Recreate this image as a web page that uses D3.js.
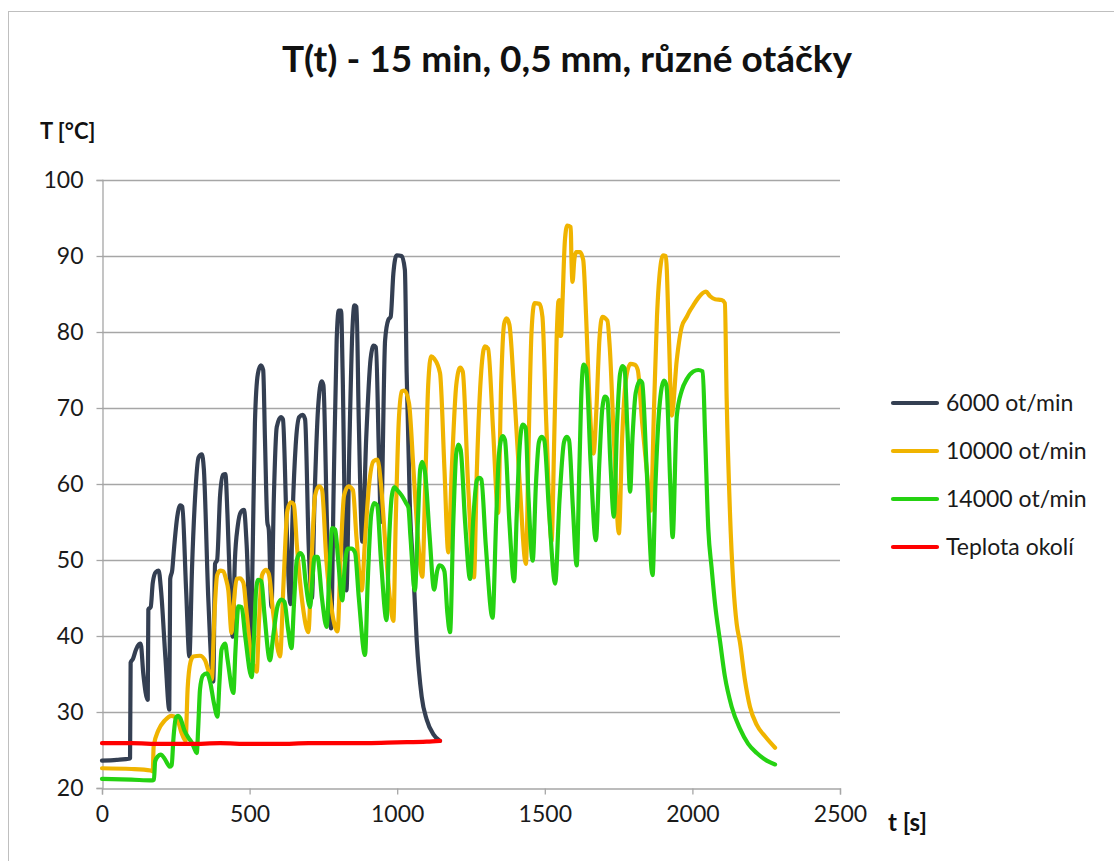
<!DOCTYPE html>
<html><head><meta charset="utf-8">
<script src="https://cdn.jsdelivr.net/npm/d3@7"></script>
<style>body{margin:0;background:#fff;} svg{display:block;}</style>
</head><body>
<svg id="chart" width="1114" height="861"></svg>
<script>
const title = "T(t) - 15 min, 0,5 mm, různé otáčky";
const xTitle = "t [s]";
const yTitle = "T [°C]";
const xTicks = [0, 500, 1000, 1500, 2000, 2500];
const yTicks = [20, 30, 40, 50, 60, 70, 80, 90, 100];
const seriesNames = ["6000 ot/min", "10000 ot/min", "14000 ot/min", "Teplota okolí"];
const seriesColors = ["#343f52", "#f0b400", "#25d212", "#ff0000"];

const s6000 = [[0,23.6],[50,23.7],[95,23.9],[97,36.5],[105,37],[115,38.2],[125,38.9],[131,39],[140,35],[155,31.6],[157,43.5],[165,43.8],[172,47],[182,48.4],[192,48.6],[200,46],[215,37],[228,30.3],[231,47.5],[238,48.7],[244,51.5],[255,55.7],[265,57.2],[272,57],[285,46],[296,37.3],[305,49],[315,58],[327,63.5],[338,63.9],[345,62],[360,45],[377,34],[383,49.5],[390,50],[400,58.5],[410,61.2],[418,61.3],[425,56],[435,45],[443,39.9],[450,49.8],[460,54.5],[470,56.3],[481,56.6],[490,52],[504,38.7],[510,50],[518,68],[528,74.5],[538,75.6],[546,75],[552,66],[560,55],[565,54],[574,43.8],[582,58],[592,67.5],[606,68.8],[613,68.5],[625,55],[638,44.2],[645,55],[656,65],[668,68.8],[680,69.1],[688,68.5],[700,52],[711,45],[720,58],[732,70],[744,73.5],[750,73],[762,55],[776,41],[785,60],[795,79],[802,82.8],[810,82.8],[815,75],[828,46],[838,65],[848,80],[855,83.5],[862,83.3],[870,68],[882,52.4],[895,66],[910,76.5],[920,78.2],[928,78],[938,64],[945,55],[959,78.9],[970,81.6],[978,82],[987,87.7],[998,90.1],[1015,90],[1026,88.2],[1032,74.7],[1043,57],[1055,48.3],[1066,39.5],[1083,32],[1100,29],[1122,27.1],[1145,26.2]];

const s10000 = [[0,22.6],[100,22.5],[165,22.3],[172,22.2],[175,25.5],[191,27.6],[213,28.9],[236,29.5],[253,29.2],[270,27.2],[283,26.2],[290,33],[300,36.6],[309,37.3],[332,37.4],[349,36.8],[360,35.5],[372,34.3],[380,42],[390,48],[400,48.6],[411,48.5],[420,47.5],[428,46],[439,40.4],[446,44],[456,47.5],[467,47.6],[479,47],[490,43],[505,37.5],[524,35.3],[532,42],[542,48],[555,48.7],[565,48.2],[580,43],[603,37.3],[615,47],[628,56.5],[640,57.6],[650,57.3],[660,52],[680,44],[699,40.5],[710,50],[722,58.5],[735,59.7],[745,59.3],[760,50],[780,43],[798,40.6],[808,50],[820,58.5],[835,59.7],[850,59.2],[862,53],[880,46],[890,52],[905,60],[920,63],[933,63.2],[945,60],[960,52],[975,45],[987,42],[995,55],[1005,68],[1015,72.2],[1025,72.3],[1040,70.6],[1055,62],[1070,53],[1085,47.8],[1095,60],[1105,73],[1115,76.8],[1125,76.5],[1145,74.6],[1160,62],[1173,51],[1185,62],[1200,73],[1213,75.3],[1222,74.8],[1240,60],[1260,47.7],[1270,62],[1285,75],[1297,78.1],[1308,77.8],[1325,67],[1342,56.2],[1352,73],[1362,81],[1370,81.8],[1380,81],[1395,73],[1415,60],[1436,49.5],[1445,65],[1455,80],[1465,83.8],[1482,83.7],[1492,82],[1505,68],[1523,52.5],[1532,66],[1540,79],[1546,84],[1549,84.2],[1551,79.5],[1555,79.5],[1560,84],[1568,92],[1576,94],[1588,93.8],[1590,90],[1594,86.6],[1600,89.5],[1606,90.5],[1619,90.5],[1630,89.5],[1640,82],[1650,72],[1665,64],[1675,70],[1685,79],[1695,82],[1712,81.5],[1720,78],[1735,65],[1751,53.5],[1762,66],[1775,73.8],[1790,75.8],[1805,75.7],[1815,75],[1830,68],[1845,62],[1859,56.5],[1870,70],[1880,82],[1893,89],[1900,90.1],[1910,90],[1920,80],[1930,69],[1947,76.3],[1964,80.7],[1981,82],[1990,82.7],[2003,83.5],[2020,84.5],[2046,85.3],[2060,84.7],[2077,84.3],[2099,84.2],[2110,83.8],[2116,71.3],[2127,56.5],[2139,46.6],[2150,41.6],[2161,39.2],[2178,34.2],[2195,30.7],[2218,28.3],[2246,26.8],[2280,25.3]];

const s14000 = [[0,21.2],[100,21.1],[170,21],[176,21.1],[180,23.5],[190,24.2],[199,24.4],[213,23.8],[225,23],[230,22.8],[236,23],[242,26.5],[250,29.2],[258,29.5],[265,29.2],[280,27.5],[295,26.5],[304,26],[315,25],[321,24.6],[326,28],[332,33],[342,34.8],[355,35.1],[366,34],[380,31],[391,29.4],[398,34],[405,38.2],[417,39],[425,37],[445,32.5],[452,38],[462,43.9],[473,43.8],[485,40],[507,34.6],[515,40],[522,46],[529,47.4],[540,47.2],[550,43],[569,36.8],[580,40],[595,44],[607,44.8],[618,44.5],[630,41],[642,38.4],[650,44],[660,50],[671,50.9],[680,50.5],[690,47],[705,43.8],[712,47],[720,50.4],[730,50.4],[745,45],[761,41.2],[770,48],[780,54.2],[790,54],[800,50],[814,44.7],[822,49],[832,51.5],[845,51.5],[857,51],[870,45],[891,37.5],[900,47],[912,56],[922,57.5],[932,57.2],[945,50],[964,42.1],[972,52],[982,58.5],[990,59.6],[1000,59.2],[1015,58.5],[1030,57.5],[1038,56.9],[1045,53],[1060,46],[1070,55],[1078,62],[1085,62.9],[1095,61.3],[1110,53],[1125,46.1],[1135,48.5],[1142,49.3],[1150,49.2],[1160,48.5],[1170,43],[1179,40.5],[1190,55],[1200,64],[1207,65.2],[1215,64.5],[1230,55],[1247,47.5],[1257,55],[1270,60.5],[1278,60.8],[1285,60.6],[1300,52],[1323,42.4],[1335,55],[1345,64],[1357,66.3],[1365,65.8],[1380,55],[1396,47.2],[1405,56],[1415,65],[1425,67.8],[1435,67.4],[1445,58],[1459,49.9],[1470,60],[1480,65.5],[1489,66.2],[1498,65.8],[1515,56],[1535,46.9],[1550,58],[1565,65.5],[1574,66.2],[1582,65.8],[1595,57],[1608,49.3],[1617,62],[1625,73],[1631,75.7],[1640,75.2],[1655,63],[1673,52.6],[1685,63],[1695,70],[1704,71.5],[1712,71.2],[1722,63],[1734,55.7],[1745,68],[1755,74.5],[1763,75.5],[1770,75.2],[1780,67],[1789,59],[1797,66],[1808,72],[1823,73.6],[1830,73.3],[1845,62],[1865,48],[1875,60],[1888,70],[1904,73.6],[1912,73],[1925,60],[1933,53],[1947,68.9],[1964,72.3],[1981,73.8],[2003,74.8],[2020,75],[2035,74.8],[2043,66.4],[2054,54],[2065,49],[2077,44.1],[2094,39.2],[2110,34.7],[2133,30.7],[2161,27.8],[2189,25.8],[2218,24.6],[2252,23.6],[2280,23.1]];

const sAmbient = [[0,25.9],[100,25.9],[200,25.8],[300,25.8],[400,25.9],[500,25.8],[600,25.8],[700,25.9],[800,25.9],[900,25.9],[1000,26.0],[1100,26.1],[1145,26.2]];

const allSeries = [s6000, s10000, s14000, sAmbient];

const svg = d3.select("#chart");
const FONT = "Lato, 'Open Sans', sans-serif";
const plot = {left: 102, right: 840, top: 180, bottom: 788};

// outer border
svg.append("rect").attr("x", 8.5).attr("y", 11.5).attr("width", 1200).attr("height", 1000)
  .attr("fill", "#fff").attr("stroke", "#bfbfbf").attr("stroke-width", 1);

const x = d3.scaleLinear().domain([0, 2500]).range([plot.left, plot.right]);
const y = d3.scaleLinear().domain([20, 100]).range([plot.bottom, plot.top]);

// gridlines
svg.append("g").selectAll("line").data(yTicks.filter(d => d > 20)).join("line")
  .attr("x1", plot.left).attr("x2", plot.right)
  .attr("y1", d => Math.round(y(d)) + 0.5).attr("y2", d => Math.round(y(d)) + 0.5)
  .attr("stroke", "#a6a6a6").attr("stroke-width", 1.3);

// axes
const xAxis = d3.axisBottom(x).tickValues(xTicks).tickSize(6).tickFormat(d3.format("d"));
const gx = svg.append("g").attr("transform", `translate(0,${plot.bottom + 0.5})`).call(xAxis);
gx.select(".domain").attr("stroke", "#a6a6a6").attr("stroke-width", 1.3);
gx.selectAll(".tick line").attr("stroke", "#a6a6a6").attr("stroke-width", 1.3);
gx.selectAll(".tick text").attr("font-family", FONT).attr("font-size", 23).attr("fill", "#1a1a1a").attr("dy", "1.05em");

const yAxis = d3.axisLeft(y).tickValues(yTicks).tickSize(6).tickFormat(d3.format("d"));
const gy = svg.append("g").attr("transform", `translate(${plot.left + 0.5},0)`).call(yAxis);
gy.select(".domain").attr("stroke", "#a6a6a6").attr("stroke-width", 1.3);
gy.selectAll(".tick line").attr("stroke", "#a6a6a6").attr("stroke-width", 1.3);
gy.selectAll(".tick text").attr("font-family", FONT).attr("font-size", 23).attr("fill", "#1a1a1a").attr("x", -19);

// series lines
const line = d3.line().x(d => x(d[0])).y(d => y(d[1])).curve(d3.curveMonotoneX);
svg.append("g").selectAll("path").data(allSeries).join("path")
  .attr("d", line).attr("fill", "none")
  .attr("stroke", (d, i) => seriesColors[i]).attr("stroke-width", 4.2)
  .attr("stroke-linejoin", "round").attr("stroke-linecap", "round");

// titles
svg.append("text").attr("x", 567).attr("y", 72).attr("text-anchor", "middle")
  .attr("font-family", FONT).attr("font-weight", "bold").attr("font-size", 37).attr("fill", "#111")
  .text(title);
svg.append("text").attr("x", 40).attr("y", 139)
  .attr("font-family", FONT).attr("font-weight", "bold").attr("font-size", 22).attr("fill", "#111")
  .text(yTitle);
svg.append("text").attr("x", 888).attr("y", 831)
  .attr("font-family", FONT).attr("font-weight", "bold").attr("font-size", 24).attr("fill", "#111")
  .text(xTitle);

// legend
const lg = svg.append("g").selectAll("g").data(seriesNames).join("g")
  .attr("transform", (d, i) => `translate(893,${403 + i * 48})`);
lg.append("line").attr("x1", 0).attr("x2", 44).attr("y1", 0).attr("y2", 0)
  .attr("stroke", (d, i) => seriesColors[i]).attr("stroke-width", 4.2).attr("stroke-linecap", "round");
lg.append("text").attr("x", 53).attr("y", 0).attr("dy", "0.35em")
  .attr("font-family", FONT).attr("font-size", 23).attr("fill", "#1a1a1a").text(d => d);
</script>
</body></html>
